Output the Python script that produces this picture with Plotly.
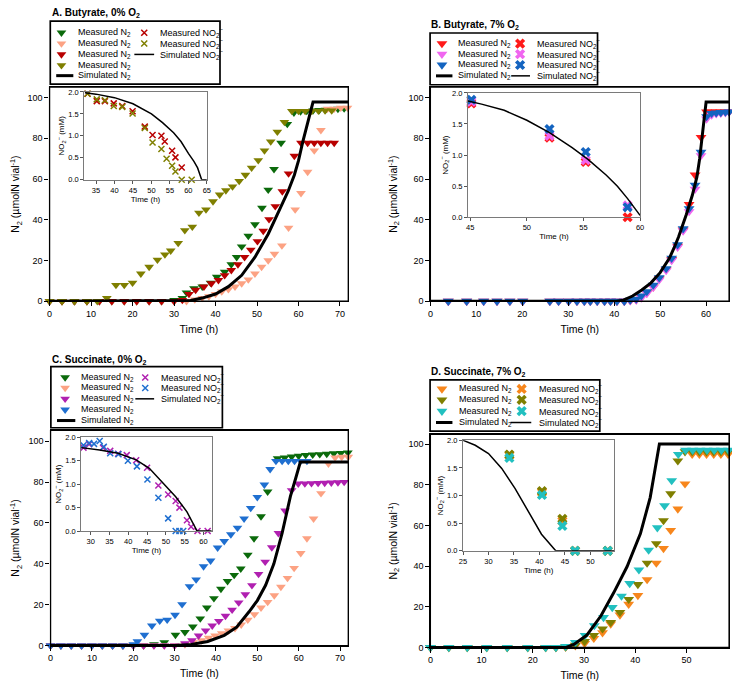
import plotly.graph_objects as go

# ---------------- panel A: butyrate, 0% O2 ----------------
a_t_green = [0, 3, 6, 9, 12, 15, 18, 21, 24, 27, 30, 32, 33, 34.8, 36.8, 38.8, 40.3, 42.2, 43.8, 45.1, 46.3,
             47.9, 49.5, 51.2, 52.7, 54.1, 55.8, 57.3, 58.9, 60.5, 62, 63.5, 65, 66.5, 68, 69.5, 71]
a_n2_green = [0, 0, 0, 0, 0, 0, 0, 0, 0, 0, 0.5, 1.5, 4.2, 6.3, 7.1, 9, 11.9, 14.4, 18, 21.6, 26.8,
              32, 37.7, 45.8, 54.7, 64.8, 77.7, 87, 92.6, 93.2, 93.4, 93.6, 93.8, 94, 94.2, 94.4, 94.6]
a_t_salmon = [0, 3, 6, 9, 12, 15, 18, 21, 24, 27, 30, 33, 35, 36.8, 38.4, 40, 41.5, 43.1, 44.7, 46.3, 47.9,
              49.5, 51.1, 52.7, 54.2, 56, 57.6, 59.2, 60.6, 62.2, 63.8, 65.4, 67, 68.6, 70.2, 71.8]
a_n2_salmon = [0, 0, 0, 0, 0, 0, 0, 0, 0, 0, 0, 0, 0.8, 1.5, 2.3, 3.5, 4.7, 5.8, 7.1, 8.7, 10.6,
               13.5, 16.8, 20, 23.2, 27.3, 36, 45, 53, 63.5, 74, 84, 94.5, 94.5, 95, 95]
a_t_red = [0, 3, 6, 9, 12, 15, 18, 21, 24, 27, 30, 32, 33.6, 35.2, 37.2, 39, 40.7, 42.2, 43.8, 45.4, 47,
           48.5, 50.1, 51.5, 52.9, 54.4, 56.1, 57.6, 59, 60.6, 62.2, 63.8, 65.4, 67, 68.6]
a_n2_red = [0, 0, 0, 0, 0, 0, 0, 0, 0, 0, 0, 0.5, 3.5, 5.5, 7.1, 8.7, 10.3, 12.7, 15.2, 18, 21.6,
            25.2, 29.4, 34.5, 40.2, 46.6, 53.9, 62.7, 71.3, 77.7, 77.7, 77.7, 77.7, 77.7, 77.7]
a_t_olive = [0, 3, 6, 9, 11.5, 13.8, 16, 18, 20, 22, 24, 26, 27.8, 29.2, 31, 32.6, 34.4, 36, 37.7, 39.4,
             41, 42.5, 44.1, 45.7, 47.2, 48.7, 50.3, 51.8, 53.3, 54.9, 56.6, 58.4, 60, 61.6, 63.2, 64.8, 66.4, 68]
a_n2_olive = [0, 0, 0, 0, 0, 1.5, 7.9, 7.9, 9, 13.5, 16.8, 20.3, 22.9, 24.8, 28.5, 34.8, 36.5, 43.4, 45, 49,
              52.3, 54.4, 56.3, 59, 62, 65.5, 69.2, 74, 78.4, 83.2, 88, 93.4, 93.4, 93.4, 93.4, 93.5, 93.6, 93.6]
a_t_sim = [0, 32, 34, 36.8, 40, 43.1, 46.3, 49.5, 52.7, 55.8, 57.5, 59, 60, 61, 62, 63.5, 72]
a_n2_sim = [0, 0, 0.3, 1.5, 3.5, 7.1, 12.7, 21.6, 33, 46.6, 54, 62, 69, 78, 86, 97.8, 97.8]

ai_t_red = [32.7, 35.2, 37.4, 39.8, 42.1, 44.9, 48.2, 50.3, 52.7, 53.6, 55.6, 56.5, 58.2]
ai_no2_red = [1.96, 1.79, 1.79, 1.74, 1.68, 1.56, 1.21, 1.02, 1.0, 0.87, 0.66, 0.51, 0.28]
ai_t_olive = [32.7, 35.2, 37.4, 39.8, 42.1, 44.9, 48.2, 50.3, 52.7, 54.1, 55.6, 56.5, 58.2, 60.9]
ai_no2_olive = [1.96, 1.83, 1.81, 1.68, 1.66, 1.51, 1.18, 0.85, 0.70, 0.48, 0.32, 0.19, 0, 0]
ai_t_sim = [32, 35, 40, 45, 50, 53, 56, 58, 60, 61.5, 62.5, 63.6, 65]
ai_no2_sim = [1.98, 1.95, 1.87, 1.73, 1.5, 1.3, 1.07, 0.87, 0.6, 0.42, 0.27, 0, 0]

# ---------------- panel B: butyrate, 7% O2 ----------------
b_t = [3.9, 7.9, 11.6, 14.5, 17.3, 20.1, 26, 27.9, 30.1, 31.9, 33.5, 34.8, 36.3, 37.9, 39.2, 40.6, 42.2,
       43.5, 44.8, 45.9, 47.1, 48.5, 49.8, 51.3, 52.5, 53.8, 55, 56.3, 57.6, 58.9, 60.1, 61.2, 62.2, 63.2, 64.2, 65]
b_n2_red = [0, 0, 0, 0, 0, 0, 0, 0, 0, 0, 0, 0, 0, 0, 0, 0, 0,
            0.3, 0.7, 2, 4, 7, 11, 15.5, 20.5, 27, 35, 47.5, 62, 80.5, 93, 93, 93, 93, 93, 93]
b_n2_violet = [0, 0, 0, 0, 0, 0, 0, 0, 0, 0, 0, 0, 0, 0, 0, 0, 0,
               0.2, 0.5, 1.6, 3.8, 6.8, 10.5, 15, 20, 26.5, 34.5, 44, 55, 71.5, 89.5, 91.5, 92, 92.3, 92.6, 93]
b_n2_blue = [0, 0, 0, 0, 0, 0, 0, 0, 0, 0, 0, 0, 0, 0, 0, 0, 0,
             0.5, 1, 2.6, 4.7, 7.9, 11.5, 16, 21.1, 27.7, 35.6, 45.5, 57, 73.2, 90.7, 92.3, 92.5, 92.7, 92.9, 93]
b_t_sim = [0, 40.5, 42, 44, 46, 48, 50, 52, 53, 54, 55.7, 57, 58, 58.6, 59.3, 60, 65]
b_n2_sim = [0, 0, 0.5, 2.5, 5.5, 9, 14, 21, 26, 31.5, 42.6, 52, 61, 70, 84, 97.8, 97.8]

bi_t = [45.1, 52.0, 55.2, 58.9]
bi_no2_red = [1.83, 1.28, 0.89, 0.0]
bi_no2_violet = [1.86, 1.31, 0.92, 0.19]
bi_no2_blue = [1.89, 1.42, 1.05, 0.16]
bi_t_sim = [44.8, 46, 48, 50, 52, 54, 55.4, 57, 58, 58.9, 60]
bi_no2_sim = [1.87, 1.82, 1.72, 1.56, 1.36, 1.12, 0.93, 0.68, 0.5, 0.3, 0.03]

# ---------------- panel C: succinate, 0% O2 ----------------
c_t_green = [0, 2.5, 5, 7.5, 10, 12.5, 15, 17.5, 20, 22.5, 25, 27.5, 30.2, 32.5, 34.4, 36.2, 37.8, 39.5, 41.2,
             42.8, 44.4, 46, 47.7, 49.2, 50.9, 52.5, 54.9, 56.6, 58.3, 60, 61.7, 63.4, 65.1, 66.8, 68.5, 70.2, 71.9]
c_n2_green = [0, 0, 0, 0, 0, 0, 0, 0, 0, 0, 0.5, 1.5, 5.2, 6.5, 9.2, 13.2, 18.5, 23.1, 27.7,
              31.5, 34.5, 37.6, 44.4, 52.4, 63.2, 75.3, 91.6, 92, 92.4, 92.8, 93.2, 93.4, 93.6, 93.8, 94, 94.2, 94.4]
c_t_salmon = [0, 2.5, 5, 7.5, 10, 12.5, 15, 17.5, 20, 22.5, 25, 27.5, 30, 32.5, 34.5, 36.5, 38.2, 39.8, 41.4,
              43, 44.6, 46.1, 47.7, 49.3, 50.9, 52.5, 54.1, 55.7, 57.3, 58.9, 60.5, 62, 63.6, 65.4, 67.2, 68.8, 70.4, 72]
c_n2_salmon = [0, 0, 0, 0, 0, 0, 0, 0, 0, 0, 0, 0, 0, 0.5, 1.5, 2.5, 3.8, 4.8, 6,
               7.3, 8.5, 10.2, 12.6, 15.3, 18.5, 21.3, 24.5, 28.7, 33, 37.9, 45.2, 52.4, 62.1, 74.5, 89, 92, 92.3, 92.3]
c_t_mag = [0, 2.5, 5, 7.5, 10, 12.5, 15, 17.5, 20, 22.5, 25, 27.5, 30, 32.5, 34.2, 35.8, 37.5, 39.1, 40.7,
           42.3, 43.9, 45.5, 47.1, 48.7, 50.3, 51.9, 53.5, 55.1, 56.7, 58.3, 59.9, 61.5, 63.1, 64.7, 66.3, 67.9, 69.5, 71]
c_n2_mag = [0, 0, 0, 0, 0, 0, 0, 0, 0, 0, 0, 0, 0, 1, 2.5, 4.8, 7.3, 9.7, 12,
            14.5, 17.5, 21, 25, 29.5, 35, 41, 48, 55, 66, 76, 79.2, 79.3, 79.4, 79.5, 79.6, 79.7, 79.8, 80]
c_t_blue = [0, 2.5, 5, 7.5, 10, 12.5, 15, 17.5, 20, 21, 22.7, 24.5, 26.4, 28.2, 30.1, 31.8, 33.6, 35.2, 37,
            38.7, 40.4, 42, 43.6, 45.2, 46.8, 48.4, 50, 51.7, 53.1, 54.5, 56, 57.5, 59, 60.5, 62]
c_n2_blue = [0, 0, 0, 0, 0, 0, 0, 0, 0.5, 2, 5.2, 9.7, 12.1, 12.6, 15, 20.2, 29, 32.3, 38.7,
             41.5, 47.9, 51.1, 54.4, 57.6, 62.1, 67.3, 72.6, 78.7, 86.3, 90.3, 90.3, 90.3, 90.3, 90.3, 90.3]
c_t_sim = [0, 30, 34, 38, 42, 45, 48, 50, 52, 54, 56, 58, 59.3, 60.4, 72]
c_n2_sim = [0, 0, 0.5, 2, 5, 9, 16.5, 22, 29.5, 40, 55, 73, 82, 89.8, 89.8]

ci_t_mag = [28.1, 29.6, 33.3, 35.2, 37.3, 39.6, 42.1, 45, 48, 50.6, 52.6, 53.6, 55.6, 56.7, 58.4, 61.1]
ci_no2_mag = [1.78, 1.85, 1.78, 1.71, 1.65, 1.62, 1.51, 1.35, 0.97, 0.78, 0.64, 0.5, 0.23, 0.09, 0, 0]
ci_t_blue = [28.1, 29.6, 30.9, 32.4, 33.5, 35.2, 37.4, 39.9, 42.3, 45.1, 48, 50.6, 52.6, 53.6, 54.6]
ci_no2_blue = [1.83, 1.88, 1.86, 1.92, 1.8, 1.66, 1.64, 1.5, 1.38, 1.1, 0.71, 0.27, 0, 0, 0]
ci_t_sim = [27.5, 32.4, 37.3, 42.1, 45.6, 49.1, 52.6, 55.6, 58.3, 62.2]
ci_no2_sim = [1.78, 1.73, 1.66, 1.52, 1.34, 1.04, 0.73, 0.41, 0, 0]

# ---------------- panel D: succinate, 7% O2 ----------------
d_t = [0, 3.6, 7.2, 11, 15, 19, 22.5, 24.5, 26.4, 28.3, 30.1, 31.9, 33.6, 35.2, 37, 38.7, 40.5, 42.3, 44.1,
       45.5, 46.9, 48.3, 49.7, 51.1, 52.5, 53.9, 55.3, 56.7, 58.1]
d_n2_orange = [0, 0, 0, 0, 0, 0, 0, 0, 0.2, 0.8, 2, 4.5, 7.3, 11.6, 16, 21.3, 25.6, 33.4, 41.5,
               48.7, 57.6, 68.1, 80.5, 95, 95, 95, 95, 95, 95]
d_n2_olive = [0, 0, 0, 0, 0, 0, 0, 0, 0.3, 1.2, 3, 6, 9.2, 12.4, 17.3, 23.7, 31, 41.5, 51.1,
              62.4, 75.6, 91.8, 96.3, 96.3, 96.3, 96.3, 96.3, 96.3, 96.3]
d_t_cyan = [0, 3.6, 7.2, 11, 15, 19, 22.5, 24.5, 26.4, 28.3, 30.2, 32, 33.8, 35.5, 37.3, 38.9, 40.7, 42.6, 44.3,
            45.7, 47.1, 48.4, 49.8, 51.2, 52.6, 54, 55.4, 56.8, 58.2]
d_n2_cyan = [0, 0, 0, 0, 0, 0, 0, 0, 0.5, 2.5, 6, 10.8, 14.8, 19.7, 25.3, 31.5, 38.2, 47.9, 58.9,
             69.7, 82.1, 95, 97, 97, 97, 97, 97, 97, 97]
d_t_sim = [0, 26.5, 28, 30.5, 33.3, 35.8, 38.4, 41, 42.9, 44.7, 58.3]
d_n2_sim = [0, 0, 1.5, 6, 15.6, 27, 39.8, 56, 73.7, 100, 100]

di_t = [34.1, 40.5, 44.5, 47.0, 53.4]
di_no2_orange = [1.73, 1.06, 0.54, 0, 0]
di_no2_olive = [1.74, 1.08, 0.58, 0, 0]
di_no2_cyan = [1.68, 1.01, 0.45, 0, 0]
di_t_sim = [25, 27.4, 30, 32.6, 35.2, 37.8, 40.4, 43.2, 54.7]
di_no2_sim = [2.0, 1.91, 1.76, 1.49, 1.13, 0.71, 0.3, 0, 0]

# page geometry: the page body adds an 8 px margin, so the figure is shrunk by that much
W, H = 740, 690
OFF = 8
FW, FH = W - OFF, H - OFF
FONT = "Liberation Sans, Arial, sans-serif"

GREEN = "#0b6a0b"
SALMON = "#fca283"
DKRED = "#b80000"
OLIVE = "#7f7f00"
RED = "#ff1a1a"
VIOLET = "#f066f0"
BLUE = "#1464c0"
MAGENTA = "#b020b0"
BLUE_C = "#1f6fd0"
ORANGE = "#f7861c"
CYAN = "#22c0c0"

N2 = "Measured N<sub>2</sub>"
NO2 = "Measured NO<sub>2</sub><sup>−</sup>"
SIM_N2 = "Simulated N<sub>2</sub>"
SIM_NO2 = "Simulated NO<sub>2</sub><sup>−</sup>"

# series: (x, y, colour, kind, legend label, legend column, legend row)
panels = [
    dict(n=1, ni=2, title="A. Butyrate, 0% O<sub>2</sub>", title_xy=(46, 9),
         box=(46, 84, 348, 301), xr=[0, 72], yr=[0, 105.2],
         ibox=(81, 89, 205, 178), ixr=[31.8, 65],
         legend=dict(box=(46.7, 17.3, 218.3, 81), rows=[29, 40, 51, 62, 72.5],
                     cols=[(58, 73, 52.7, 70), (141.7, 156, 131.7, 151.7)]),
         main=[(a_t_green, a_n2_green, GREEN, "tri", N2, 0, 0),
               (a_t_salmon, a_n2_salmon, SALMON, "tri", N2, 0, 1),
               (a_t_red, a_n2_red, DKRED, "tri", N2, 0, 2),
               (a_t_olive, a_n2_olive, OLIVE, "tri", N2, 0, 3),
               (a_t_sim, a_n2_sim, "black", "thick", SIM_N2, 0, 4)],
         inset=[(ai_t_red, ai_no2_red, DKRED, "xthin", NO2, 1, 0),
                (ai_t_olive, ai_no2_olive, OLIVE, "xthin", NO2, 1, 1),
                (ai_t_sim, ai_no2_sim, "black", "thin", SIM_NO2, 1, 2)]),
    dict(n=3, ni=4, title="B. Butyrate, 7% O<sub>2</sub>", title_xy=(430, 21),
         box=(431, 84, 733, 301), xr=[0, 65], yr=[0, 105.2],
         ibox=(469, 90, 643, 216), ixr=[44.8, 60],
         legend=dict(box=(430.7, 29.3, 600, 81.7), rows=[40, 50.7, 61.7, 72.7],
                     cols=[(442.7, 457.3, 436.7, 453.3), (521.7, 536.7, 512.7, 531.7)]),
         main=[(b_t, b_n2_red, RED, "tribig", N2, 0, 0),
               (b_t, b_n2_violet, VIOLET, "tribig", N2, 0, 1),
               (b_t, b_n2_blue, BLUE, "tribig", N2, 0, 2),
               (b_t_sim, b_n2_sim, "black", "thick", SIM_N2, 0, 3)],
         inset=[(bi_t, bi_no2_red, RED, "xbold", NO2, 1, 0),
                (bi_t, bi_no2_violet, VIOLET, "xbold", NO2, 1, 1),
                (bi_t, bi_no2_blue, BLUE, "xbold", NO2, 1, 2),
                (bi_t_sim, bi_no2_sim, "black", "thin", SIM_NO2, 1, 3)]),
    dict(n=5, ni=6, title="C. Succinate, 0% O<sub>2</sub>", title_xy=(46, 361),
         box=(47, 432, 348, 650), xr=[0, 72], yr=[0, 105.3],
         ibox=(78, 439, 210, 534), ixr=[27.5, 62.2],
         legend=dict(box=(47.3, 367.3, 220.7, 429.3), rows=[378.3, 389, 400, 411, 422],
                     cols=[(61.7, 76, 53.5, 72), (142.7, 156.7, 132.7, 151.7)]),
         main=[(c_t_green, c_n2_green, GREEN, "tri", N2, 0, 0),
               (c_t_salmon, c_n2_salmon, SALMON, "tri", N2, 0, 1),
               (c_t_mag, c_n2_mag, MAGENTA, "tri", N2, 0, 2),
               (c_t_blue, c_n2_blue, BLUE_C, "tri", N2, 0, 3),
               (c_t_sim, c_n2_sim, "black", "thick", SIM_N2, 0, 4)],
         inset=[(ci_t_mag, ci_no2_mag, MAGENTA, "xthin", NO2, 1, 0),
                (ci_t_blue, ci_no2_blue, BLUE_C, "xthin", NO2, 1, 1),
                (ci_t_sim, ci_no2_sim, "black", "thin", SIM_NO2, 1, 2)]),
    dict(n=7, ni=8, title="D. Succinate, 7% O<sub>2</sub>", title_xy=(430, 373),
         box=(431, 436, 733, 652), xr=[0, 58.3], yr=[0, 104.8],
         ibox=(464, 442, 617, 554), ixr=[25, 54.7],
         legend=dict(box=(430.7, 380.7, 602.3, 432.7), rows=[390, 401, 412.5, 424],
                     cols=[(442.7, 457.7, 436.7, 453.3), (523.3, 538.3, 512, 533)]),
         main=[(d_t, d_n2_orange, ORANGE, "tribig", N2, 0, 0),
               (d_t, d_n2_olive, OLIVE, "tribig", N2, 0, 1),
               (d_t_cyan, d_n2_cyan, CYAN, "tribig", N2, 0, 2),
               (d_t_sim, d_n2_sim, "black", "thick", SIM_N2, 0, 3)],
         inset=[(di_t, di_no2_orange, ORANGE, "xbold", NO2, 1, 0),
                (di_t, di_no2_olive, OLIVE, "xbold", NO2, 1, 1),
                (di_t, di_no2_cyan, CYAN, "xbold", NO2, 1, 2),
                (di_t_sim, di_no2_sim, "black", "thin", SIM_NO2, 1, 3)]),
]


def ref(axis, n):
    return axis if n == 1 else f"{axis}{n}"


def dom_x(left, right):
    return [(left - OFF) / FW, (right - OFF) / FW]


def dom_y(top, bottom):
    return [1 - (bottom - OFF) / FH, 1 - (top - OFF) / FH]


def marker(kind, color):
    if kind == "tri":
        return dict(symbol="triangle-down", size=8.5, color=color, line=dict(width=0))
    if kind == "tribig":
        return dict(symbol="triangle-down", size=9.5, color=color, line=dict(width=0))
    if kind == "xthin":
        return dict(symbol="x-thin", size=6, color=color, line=dict(color=color, width=1.5))
    return dict(symbol="x", size=9, color=color, line=dict(width=0))


def trace(x, y, color, kind, xa, ya):
    if kind in ("thick", "thin"):
        return go.Scatter(x=x, y=y, xaxis=xa, yaxis=ya, mode="lines", hoverinfo="skip",
                          line=dict(color=color, width=3 if kind == "thick" else 1.5))
    return go.Scatter(x=x, y=y, xaxis=xa, yaxis=ya, mode="markers", cliponaxis=False,
                      marker=marker(kind, color))


def frame(box, color, width):
    # closed box round a subplot in paper coordinates (not clipped)
    l, t, r, b = box
    x0, x1 = dom_x(l, r)
    y0, y1 = dom_y(t, b)
    return dict(type="rect", xref="paper", yref="paper", x0=x0, x1=x1, y0=y0, y1=y1,
                line=dict(color=color, width=width), layer="above")


fig = go.Figure()
layout = {}
annotations = []
shapes = []
legend_traces = []

for p in panels:
    n, ni = p["n"], p["ni"]
    l, t, r, b = p["box"]
    layout[ref("xaxis", n)] = dict(
        domain=dom_x(l, r), range=p["xr"], anchor=ref("y", n),
        showline=True, mirror=True, linecolor="black", linewidth=1.3,
        ticks="outside", ticklen=4, tickcolor="black", tickwidth=1.2,
        tick0=0, dtick=10, showgrid=False, zeroline=False, tickfont=dict(size=9),
        title=dict(text="Time (h)", font=dict(size=10.5), standoff=7))
    layout[ref("yaxis", n)] = dict(
        domain=dom_y(t, b), range=p["yr"], anchor=ref("x", n),
        showline=True, mirror=True, linecolor="black", linewidth=1.3,
        ticks="outside", ticklen=4, tickcolor="black", tickwidth=1.2,
        tick0=0, dtick=20, showgrid=False, zeroline=False, tickfont=dict(size=9),
        title=dict(text="N<sub>2</sub> (µmolN vial<sup>-1</sup>)", font=dict(size=10.5), standoff=8))
    shapes.append(frame(p["box"], "black", 1.3))

    il, it, ir, ib = p["ibox"]
    layout[ref("xaxis", ni)] = dict(
        domain=dom_x(il, ir), range=p["ixr"], anchor=ref("y", ni),
        showline=True, mirror=True, linecolor="#7a7a7a", linewidth=1,
        ticks="outside", ticklen=3, tickcolor="#555",
        tick0=0, dtick=5, showgrid=False, zeroline=False, tickfont=dict(size=7.5),
        title=dict(text="Time (h)", font=dict(size=8), standoff=2))
    layout[ref("yaxis", ni)] = dict(
        domain=dom_y(it, ib), range=[0, 2.0], anchor=ref("x", ni),
        showline=True, mirror=True, linecolor="#7a7a7a", linewidth=1,
        ticks="outside", ticklen=3, tickcolor="#555",
        tick0=0, dtick=0.5, tickformat=".1f", showgrid=False, zeroline=False, tickfont=dict(size=7.5),
        title=dict(text="NO<sub>2</sub><sup>−</sup> (mM)", font=dict(size=8), standoff=2))

    for x, y, color, kind, label, col, row in p["main"]:
        fig.add_trace(trace(x, y, color, kind, ref("x", n), ref("y", n)))
    for x, y, color, kind, label, col, row in p["inset"]:
        fig.add_trace(trace(x, y, color, kind, ref("x", ni), ref("y", ni)))

    # title and hand-laid two-column legend (page pixel coordinates on an overlay axis)
    tx, ty = p["title_xy"]
    annotations.append(dict(x=tx, y=ty, xref="x9", yref="y9", text="<b>" + p["title"] + "</b>",
                            showarrow=False, xanchor="left", yanchor="middle", font=dict(size=10)))
    lg = p["legend"]
    bx0, by0, bx1, by1 = lg["box"]
    shapes.append(dict(type="rect", xref="x9", yref="y9", x0=bx0, y0=by0, x1=bx1, y1=by1,
                       line=dict(color="black", width=1.7)))
    for x, y, color, kind, label, col, row in p["main"] + p["inset"]:
        mx, txt_x, lx0, lx1 = lg["cols"][col]
        ry = lg["rows"][row]
        if kind in ("thick", "thin"):
            legend_traces.append(trace([lx0, lx1], [ry, ry], color, kind, "x9", "y9"))
        else:
            legend_traces.append(trace([mx], [ry], color, kind, "x9", "y9"))
        annotations.append(dict(x=txt_x, y=ry, xref="x9", yref="y9", text=label, showarrow=False,
                                xanchor="left", yanchor="middle", font=dict(size=9)))

for tr in legend_traces:
    fig.add_trace(tr)

layout["xaxis9"] = dict(domain=[0, 1], range=[OFF, W], anchor="y9", visible=False, fixedrange=True)
layout["yaxis9"] = dict(domain=[0, 1], range=[H, OFF], anchor="x9", visible=False, fixedrange=True)

fig.update_layout(**layout)
fig.update_layout(width=FW, height=FH, margin=dict(l=0, r=0, t=0, b=0),
                  paper_bgcolor="white", plot_bgcolor="rgba(0,0,0,0)", showlegend=False,
                  font=dict(family=FONT, color="black"),
                  annotations=annotations, shapes=shapes)

fig.write_html("out.html")
